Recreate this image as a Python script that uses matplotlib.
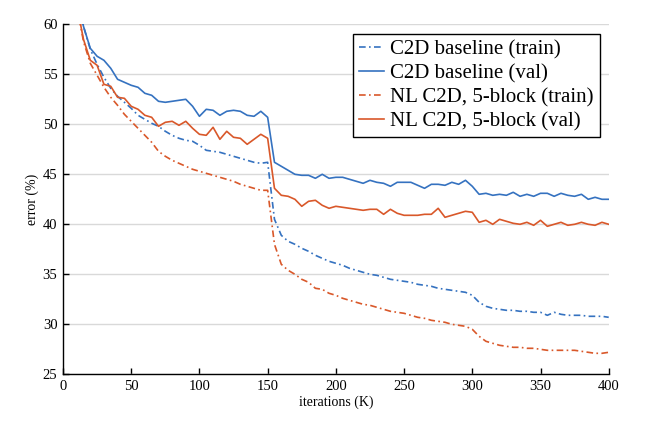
import numpy as np
import matplotlib
matplotlib.use("Agg")
import matplotlib.pyplot as plt

plt.rcParams['font.family'] = ['Liberation Serif', 'DejaVu Serif']

# iterations (K), one point every 5K
iterations = np.arange(10, 405, 5)

c2d_train = [63.0, 59.8, 57.5, 56.0, 54.7, 53.6, 52.8, 52.2, 51.6, 50.9,
             50.5, 50.1, 49.8, 49.3, 48.9, 48.6, 48.4, 48.3, 47.9, 47.4,
             47.3, 47.2, 47.0, 46.8, 46.6, 46.4, 46.2, 46.1, 46.2, 40.5,
             38.9, 38.3, 38.0, 37.6, 37.3, 36.9, 36.6, 36.3, 36.1, 35.9,
             35.6, 35.4, 35.2, 35.0, 34.9, 34.7, 34.5, 34.4, 34.3, 34.2,
             34.0, 33.9, 33.8, 33.6, 33.5, 33.4, 33.3, 33.2, 32.9, 32.2,
             31.8, 31.6, 31.5, 31.4, 31.4, 31.3, 31.3, 31.2, 31.2, 30.9,
             31.2, 31.0, 30.9, 30.9, 30.9, 30.8, 30.8, 30.8, 30.7]

c2d_val = [63.0, 59.8, 57.6, 56.8, 56.4, 55.6, 54.5, 54.2, 53.9, 53.7,
           53.1, 52.9, 52.3, 52.2, 52.3, 52.4, 52.5, 51.8, 50.8, 51.5,
           51.4, 50.9, 51.3, 51.4, 51.3, 50.9, 50.8, 51.3, 50.7, 46.2,
           45.8, 45.4, 45.0, 44.9, 44.9, 44.6, 45.0, 44.6, 44.7, 44.7,
           44.5, 44.3, 44.1, 44.4, 44.2, 44.1, 43.8, 44.2, 44.2, 44.2,
           43.9, 43.6, 44.0, 44.0, 43.9, 44.2, 44.0, 44.4, 43.8, 43.0,
           43.1, 42.9, 43.0, 42.9, 43.2, 42.8, 43.0, 42.8, 43.1, 43.1,
           42.8, 43.1, 42.9, 42.8, 43.0, 42.5, 42.7, 42.5, 42.5]

nl_train = [62.0, 58.3, 56.1, 54.9, 53.7, 52.7, 51.9, 51.0, 50.3, 49.6,
            48.9, 48.2, 47.3, 46.8, 46.4, 46.1, 45.8, 45.5, 45.3, 45.1,
            44.9, 44.7, 44.5, 44.3, 44.0, 43.8, 43.6, 43.4, 43.4, 38.0,
            36.0, 35.4, 35.0, 34.5, 34.2, 33.6, 33.5, 33.1, 32.9, 32.6,
            32.4, 32.2, 32.0, 31.9, 31.7, 31.5, 31.3, 31.2, 31.1, 30.9,
            30.7, 30.6, 30.4, 30.3, 30.2, 30.0, 29.9, 29.8, 29.5, 28.8,
            28.3, 28.1, 27.9, 27.8, 27.7, 27.7, 27.6, 27.6, 27.5, 27.4,
            27.4, 27.4, 27.4, 27.4, 27.3, 27.2, 27.1, 27.1, 27.2]

nl_val = [62.0, 58.5, 56.4, 55.9, 54.0, 53.8, 52.7, 52.6, 51.8, 51.5,
          50.9, 50.7, 49.8, 50.2, 50.3, 49.9, 50.3, 49.6, 49.0, 48.9,
          49.7, 48.5, 49.3, 48.7, 48.6, 48.0, 48.5, 49.0, 48.6, 43.6,
          42.9, 42.8, 42.5, 41.8, 42.3, 42.4, 41.9, 41.6, 41.8, 41.7,
          41.6, 41.5, 41.4, 41.5, 41.5, 41.0, 41.5, 41.1, 40.9, 40.9,
          40.9, 41.0, 41.0, 41.6, 40.7, 40.9, 41.1, 41.3, 41.2, 40.2,
          40.4, 40.0, 40.5, 40.3, 40.1, 40.0, 40.2, 39.9, 40.4, 39.8,
          40.0, 40.2, 39.9, 40.0, 40.2, 40.0, 39.9, 40.2, 40.0]

blue = '#3572c0'
red = '#d9582a'
dashdot = (0, (4, 2, 1, 2))

fig = plt.figure(figsize=(6.66, 4.24), dpi=100)
ax = fig.add_axes([0.0946, 0.1172, 0.8194, 0.8255])

ax.plot(iterations, c2d_train, color=blue, lw=1.2, ls=dashdot, label='C2D baseline (train)')
ax.plot(iterations, c2d_val, color=blue, lw=1.2, ls='-', label='C2D baseline (val)')
ax.plot(iterations, nl_train, color=red, lw=1.2, ls=dashdot, label='NL C2D, 5-block (train)')
ax.plot(iterations, nl_val, color=red, lw=1.2, ls='-', label='NL C2D, 5-block (val)')

ax.set_xlim(0, 400)
ax.set_ylim(25, 60)
ax.set_xticks(range(0, 401, 50))
ax.set_yticks(range(25, 61, 5))
ax.yaxis.grid(True, color='#d9d9d9', lw=1)
ax.set_axisbelow(True)
for s in ['top', 'right']:
    ax.spines[s].set_visible(False)
for s in ['left', 'bottom']:
    ax.spines[s].set_linewidth(1.0)
ax.tick_params(direction='in', length=4, width=1, labelsize=10.5, pad=4)

ax.set_xlabel('iterations (K)', fontsize=10, labelpad=2)
ax.set_ylabel('error (%)', fontsize=10, labelpad=3)

leg = ax.legend(loc='upper right', bbox_to_anchor=(0.901, 0.92),
                bbox_transform=fig.transFigure, fontsize=15, frameon=True,
                fancybox=False, edgecolor='black', framealpha=1,
                handlelength=1.2, handletextpad=0.3, labelspacing=0.2,
                borderpad=0.3, borderaxespad=0)
leg.get_frame().set_linewidth(1.0)

fig.savefig('out.png', dpi=100)
